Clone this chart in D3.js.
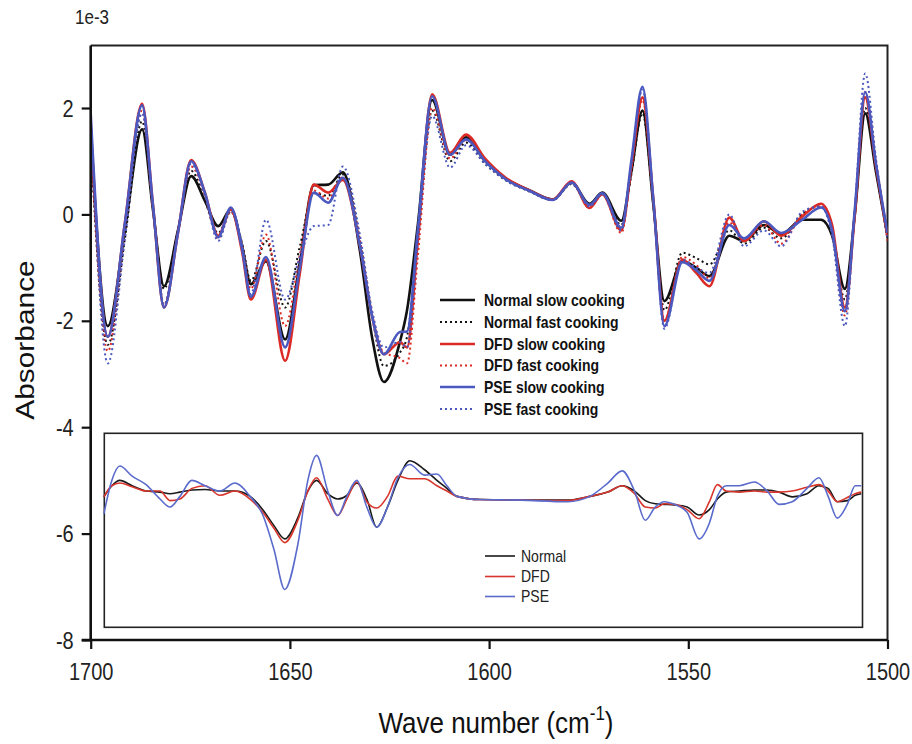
<!DOCTYPE html>
<html>
<head>
<meta charset="utf-8">
<script src="https://cdn.jsdelivr.net/npm/d3@7"></script>
<style>
  html, body { margin: 0; padding: 0; background: #ffffff; }
  svg { display: block; }
  text { font-family: "Liberation Sans", Arial, Helvetica, sans-serif; }
</style>
</head>
<body>
<svg id="chart" width="912" height="744"></svg>
<script>
// ---------- DATA (wavenumber in cm-1, absorbance in units of 1e-3) ----------
const mainWave = [1700, 1695.7, 1691.4, 1687.1, 1684.4, 1681.6, 1678.1, 1674.8, 1671.3, 1668,
  1664.8, 1662, 1659.8, 1656, 1651.2, 1647.5, 1644, 1640.4, 1636.7, 1632.4,
  1629.4, 1626.4, 1622.4, 1620.6, 1617.9, 1614.3, 1609.8, 1605.8, 1601, 1596,
  1589.8, 1584, 1579.3, 1574.8, 1571.6, 1566.8, 1564.3, 1561.5, 1558.8, 1556,
  1551.5, 1548, 1544.7, 1539.7, 1536, 1531, 1526.7, 1521.4, 1516.7, 1513.9,
  1510.7, 1508.2, 1505.6, 1502.9, 1500];

const normalSlow = [1.5, -2.1, -0.3, 1.6, 0.1, -1.35, -0.3, 0.72, 0.25, -0.22,
  0.1, -0.6, -1.31, -0.88, -2.35, -0.9, 0.55, 0.56, 0.79, -0.7,
  -2.3, -3.15, -2.4, -1.8, -0.2, 2.15, 1.12, 1.45, 1.0, 0.68,
  0.45, 0.28, 0.6, 0.2, 0.41, -0.12, 0.8, 1.95, 0.2, -1.63,
  -0.88, -1.0, -1.16, -0.4, -0.5, -0.2, -0.37, -0.1, -0.1, -0.4,
  -1.4, 0.0, 1.9, 0.8, -0.4];

const normalFast = [1.3, -2.45, -0.45, 1.75, 0.15, -1.4, -0.3, 0.82, 0.25, -0.35,
  0.05, -0.55, -1.25, -0.5, -1.75, -0.6, 0.4, 0.35, 0.75, -0.5,
  -1.9, -2.85, -2.6, -2.3, -0.5, 1.95, 1.0, 1.35, 0.95, 0.65,
  0.43, 0.27, 0.57, 0.18, 0.38, -0.2, 0.75, 1.9, 0.2, -1.8,
  -0.72, -0.82, -0.94, -0.3, -0.55, -0.25, -0.45, 0.0, 0.15, -0.3,
  -1.6, 0.0, 2.0, 0.85, -0.45];

const dfdSlow = [1.7, -2.3, -0.15, 2.08, 0.2, -1.75, -0.35, 1.02, 0.4, -0.4,
  0.1, -0.7, -1.6, -0.85, -2.75, -1.1, 0.56, 0.41, 0.65, -0.6,
  -1.9, -2.63, -2.4, -2.5, -0.5, 2.26, 1.16, 1.5, 1.05, 0.7,
  0.45, 0.28, 0.62, 0.12, 0.38, -0.3, 0.9, 2.2, 0.3, -2.0,
  -0.85, -1.1, -1.35, -0.06, -0.5, -0.13, -0.4, -0.04, 0.2, -0.2,
  -1.75, 0.0, 2.2, 0.9, -0.4];

const dfdFast = [1.6, -2.57, -0.3, 1.95, 0.15, -1.7, -0.35, 0.9, 0.35, -0.45,
  0.05, -0.6, -1.4, -0.38, -2.1, -0.75, 0.45, 0.3, 0.7, -0.5,
  -1.9, -2.6, -2.7, -2.8, -0.8, 2.0, 1.05, 1.4, 1.0, 0.68,
  0.44, 0.27, 0.6, 0.12, 0.38, -0.35, 0.85, 2.15, 0.3, -2.0,
  -0.8, -0.95, -1.2, -0.15, -0.5, -0.2, -0.55, 0.0, 0.15, -0.3,
  -1.9, 0.0, 2.3, 1.0, -0.5];

const pseSlow = [1.9, -2.3, -0.15, 2.05, 0.2, -1.75, -0.35, 1.0, 0.4, -0.43,
  0.13, -0.65, -1.55, -0.8, -2.5, -1.0, 0.41, 0.22, 0.69, -0.6,
  -1.9, -2.63, -2.21, -2.2, -0.3, 2.22, 1.12, 1.41, 1.0, 0.67,
  0.44, 0.27, 0.6, 0.18, 0.4, -0.25, 1.0, 2.4, 0.3, -2.1,
  -0.9, -1.05, -1.25, -0.2, -0.45, -0.13, -0.35, -0.1, 0.13, -0.3,
  -1.82, 0.1, 2.3, 0.95, -0.35];

const pseFast = [1.8, -2.8, -0.45, 1.9, 0.15, -1.7, -0.35, 0.95, 0.35, -0.5,
  0.08, -0.55, -1.5, -0.1, -1.6, -0.8, -0.22, -0.2, 0.9, -0.4,
  -1.8, -2.5, -2.4, -2.5, -0.5, 1.85, 0.88, 1.3, 0.95, 0.65,
  0.43, 0.27, 0.58, 0.15, 0.38, -0.3, 0.95, 2.35, 0.3, -2.15,
  -0.85, -1.0, -1.1, 0.0, -0.6, -0.3, -0.6, 0.05, 0.15, -0.4,
  -2.1, 0.1, 2.65, 1.05, -0.45];

// Inset (difference spectra), plotted on the same axes
const insetWave = [1696.7, 1694.7, 1692.7, 1689.6, 1686.1, 1682.6, 1680.1, 1677.6, 1674.6, 1671.3,
  1667.6, 1663.8, 1660.0, 1656.8, 1654.0, 1651.3, 1648.0, 1645.5, 1643.3, 1640.5,
  1638.0, 1635.7, 1633.2, 1630.7, 1628.2, 1625.5, 1622.9, 1619.9, 1616.2, 1613.1,
  1610.6, 1608.1, 1602.3, 1592.3, 1580.3, 1574.7, 1570.2, 1566.6, 1563.5, 1560.8,
  1558.3, 1556.0, 1553.5, 1550.3, 1547.3, 1544.7, 1542.7, 1540.5, 1537.2, 1533.4,
  1530.2, 1527.2, 1523.9, 1520.2, 1517.2, 1514.9, 1512.6, 1510.1, 1508.1, 1506.6];

const insetNormal = [-5.31, -5.1, -5.0, -5.1, -5.2, -5.22, -5.25, -5.22, -5.18, -5.17,
  -5.2, -5.2, -5.3, -5.55, -5.85, -6.1, -5.7, -5.2, -5.0, -5.25,
  -5.35, -5.28, -5.05, -5.35, -5.88, -5.5, -5.0, -4.63, -4.8, -5.0,
  -5.15, -5.3, -5.36, -5.37, -5.37, -5.3, -5.22, -5.1, -5.2, -5.38,
  -5.44, -5.45, -5.46, -5.5, -5.65, -5.55, -5.35, -5.22, -5.2, -5.18,
  -5.18, -5.22, -5.31, -5.25, -5.1, -5.15, -5.4, -5.38, -5.28, -5.25];

const insetDFD = [-5.31, -5.1, -5.05, -5.12, -5.2, -5.2, -5.38, -5.35, -5.15, -5.1,
  -5.28, -5.2, -5.35, -5.6, -5.9, -6.17, -5.75, -5.2, -4.95, -5.35,
  -5.66, -5.35, -5.03, -5.4, -5.52, -5.3, -4.92, -4.97, -4.97, -5.1,
  -5.2, -5.3, -5.36, -5.37, -5.38, -5.3, -5.22, -5.1, -5.25, -5.5,
  -5.52, -5.44, -5.45, -5.55, -5.72, -5.4, -5.08, -5.2, -5.22, -5.2,
  -5.22, -5.22, -5.2, -5.13, -5.08, -5.2, -5.4, -5.32, -5.25, -5.22];

const insetPSE = [-5.63, -5.0, -4.73, -4.92, -5.08, -5.35, -5.5, -5.3, -5.0, -5.1,
  -5.2, -5.05, -5.3, -5.65, -6.3, -7.05, -6.2, -5.0, -4.53, -5.2,
  -5.66, -5.3, -5.0, -5.5, -5.88, -5.5, -4.95, -4.7, -4.9, -4.88,
  -5.1, -5.3, -5.36, -5.37, -5.4, -5.3, -5.05, -4.82, -5.2, -5.75,
  -5.5, -5.4, -5.45, -5.6, -6.1, -5.8, -5.3, -5.1, -5.1, -5.03,
  -5.2, -5.45, -5.4, -5.15, -4.95, -5.3, -5.71, -5.45, -5.1, -5.1];

const mainLabels = ["Normal slow cooking", "Normal fast cooking", "DFD slow cooking",
  "DFD fast cooking", "PSE slow cooking", "PSE fast cooking"];
const insetLabels = ["Normal", "DFD", "PSE"];
const xTicks = [1700, 1650, 1600, 1550, 1500];
const yTicks = [-8, -6, -4, -2, 0, 2];

// ---------- STYLES ----------
const BLACK = "#111111", RED = "#dc2a24", BLUE = "#4a58bf";
const mainSeries = [
  { name: mainLabels[0], values: normalSlow, color: BLACK, dotted: false },
  { name: mainLabels[1], values: normalFast, color: BLACK, dotted: true },
  { name: mainLabels[2], values: dfdSlow, color: RED, dotted: false },
  { name: mainLabels[3], values: dfdFast, color: RED, dotted: true },
  { name: mainLabels[4], values: pseSlow, color: BLUE, dotted: false },
  { name: mainLabels[5], values: pseFast, color: BLUE, dotted: true }
];
const insetSeries = [
  { name: insetLabels[0], values: insetNormal, color: "#1a1a1a" },
  { name: insetLabels[1], values: insetDFD, color: "#d8352c" },
  { name: insetLabels[2], values: insetPSE, color: "#5a6bcc" }
];

(function () {
const SY = 1.15; // vertical text stretch of the original figure
const svg = d3.select("#chart");

const pL = 90.7, pR = 887.5, pT = 45.5, pB = 640;
const x = d3.scaleLinear().domain([1700, 1500]).range([pL, pR]);
const y = d3.scaleLinear().domain([-8, 3.175]).range([pB, pT]);

svg.append("defs").append("clipPath").attr("id", "plotClip")
  .append("rect").attr("x", pL).attr("y", pT)
  .attr("width", pR - pL).attr("height", pB - pT);

// frame top & right
svg.append("path")
  .attr("d", `M${pL},${pT}H${pR}V${pB}`)
  .attr("fill", "none").attr("stroke", "#222").attr("stroke-width", 2);

// inset box
const insetBox = { x0: 104.3, x1: 862.5, y0: 433.3, y1: 627.3 };
svg.append("rect")
  .attr("x", insetBox.x0).attr("y", insetBox.y0)
  .attr("width", insetBox.x1 - insetBox.x0).attr("height", insetBox.y1 - insetBox.y0)
  .attr("fill", "none").attr("stroke", "#222").attr("stroke-width", 1.6);

// curves
const line = d3.line().curve(d3.curveMonotoneX);
const gMain = svg.append("g").attr("clip-path", "url(#plotClip)");
mainSeries.forEach(s => {
  const pts = mainWave.map((w, i) => [x(w), y(s.values[i])]);
  gMain.append("path")
    .attr("d", line(pts))
    .attr("fill", "none")
    .attr("stroke", s.color)
    .attr("stroke-width", s.dotted ? 2 : 2.6)
    .attr("stroke-dasharray", s.dotted ? "2,3" : null)
    .attr("stroke-linejoin", "round");
});

const gInset = svg.append("g");
insetSeries.forEach(s => {
  const pts = insetWave.map((w, i) => [x(w), y(s.values[i])]);
  gInset.append("path")
    .attr("d", line(pts))
    .attr("fill", "none")
    .attr("stroke", s.color)
    .attr("stroke-width", 1.6)
    .attr("stroke-linejoin", "round");
});

// axes
const yAxis = d3.axisLeft(y).tickValues(yTicks).tickSize(9).tickFormat(d3.format("d"));
const gy = svg.append("g").attr("transform", `translate(${pL},0)`).call(yAxis);
gy.select(".domain").attr("stroke", "#111").attr("stroke-width", 2.6)
  .attr("d", `M-9,${pB}H0V${pT}`);
gy.selectAll(".tick line").attr("stroke", "#111").attr("stroke-width", 2.2);
gy.selectAll(".tick text")
  .attr("x", 0).attr("y", 0).attr("dy", null)
  .attr("transform", `translate(-17,8) scale(1,${SY})`)
  .attr("font-size", 20).attr("fill", "#222")
  .attr("font-family", "'Liberation Sans', Arial, sans-serif")
  .text(d => d < 0 ? "-" + Math.abs(d) : String(d));

const xAxis = d3.axisBottom(x).tickValues(xTicks).tickSize(9).tickFormat(d3.format("d"));
const gx = svg.append("g").attr("transform", `translate(0,${pB})`).call(xAxis);
gx.select(".domain").attr("stroke", "#111").attr("stroke-width", 2.6)
  .attr("d", `M${pL},0H${pR}`);
gx.selectAll(".tick line").attr("stroke", "#111").attr("stroke-width", 2.2);
gx.selectAll(".tick text")
  .attr("y", 0).attr("dy", null)
  .attr("transform", `translate(0,40) scale(1,${SY})`)
  .attr("font-size", 20).attr("fill", "#222")
  .attr("font-family", "'Liberation Sans', Arial, sans-serif");

// stretched text helper
function stext(g, tx, ty, str, opts = {}) {
  return g.append("text")
    .attr("transform", `translate(${tx},${ty}) scale(1,${SY})` + (opts.rotate ? ` rotate(${opts.rotate})` : ""))
    .attr("font-size", opts.size || 14)
    .attr("font-weight", opts.weight || "normal")
    .attr("text-anchor", opts.anchor || "start")
    .attr("fill", opts.fill || "#111")
    .text(str);
}

// multiplier label
stext(svg, 75, 24, "1e-3", { size: 17, fill: "#222" });

// axis titles
stext(svg, 34, 340, "Absorbance", { size: 26, rotate: -90, anchor: "middle", fill: "#111" });
const xt = svg.append("text")
  .attr("transform", `translate(496,733) scale(1,${SY})`)
  .attr("font-size", 26).attr("text-anchor", "middle").attr("fill", "#111");
xt.append("tspan").text("Wave number (cm");
xt.append("tspan").attr("font-size", 17).attr("dy", -11).text("-1");
xt.append("tspan").attr("dy", 11).text(")");

// main legend
const legRows = [300, 322, 344, 365.5, 387, 409];
const gLeg = svg.append("g");
mainSeries.forEach((s, i) => {
  gLeg.append("line")
    .attr("x1", 440).attr("x2", 475).attr("y1", legRows[i]).attr("y2", legRows[i])
    .attr("stroke", s.color)
    .attr("stroke-width", s.dotted ? 2 : 2.6)
    .attr("stroke-dasharray", s.dotted ? "2,3" : null);
  stext(gLeg, 484, legRows[i] + 5.8, s.name, { size: 14, weight: "bold", fill: "#111" });
});

// inset legend
const insetRows = [556, 576.5, 596.5];
insetSeries.forEach((s, i) => {
  gLeg.append("line")
    .attr("x1", 485).attr("x2", 515).attr("y1", insetRows[i]).attr("y2", insetRows[i])
    .attr("stroke", s.color).attr("stroke-width", 1.6);
  stext(gLeg, 521, insetRows[i] + 5.8, s.name, { size: 14, fill: "#222" });
});
})();
</script>
</body>
</html>
